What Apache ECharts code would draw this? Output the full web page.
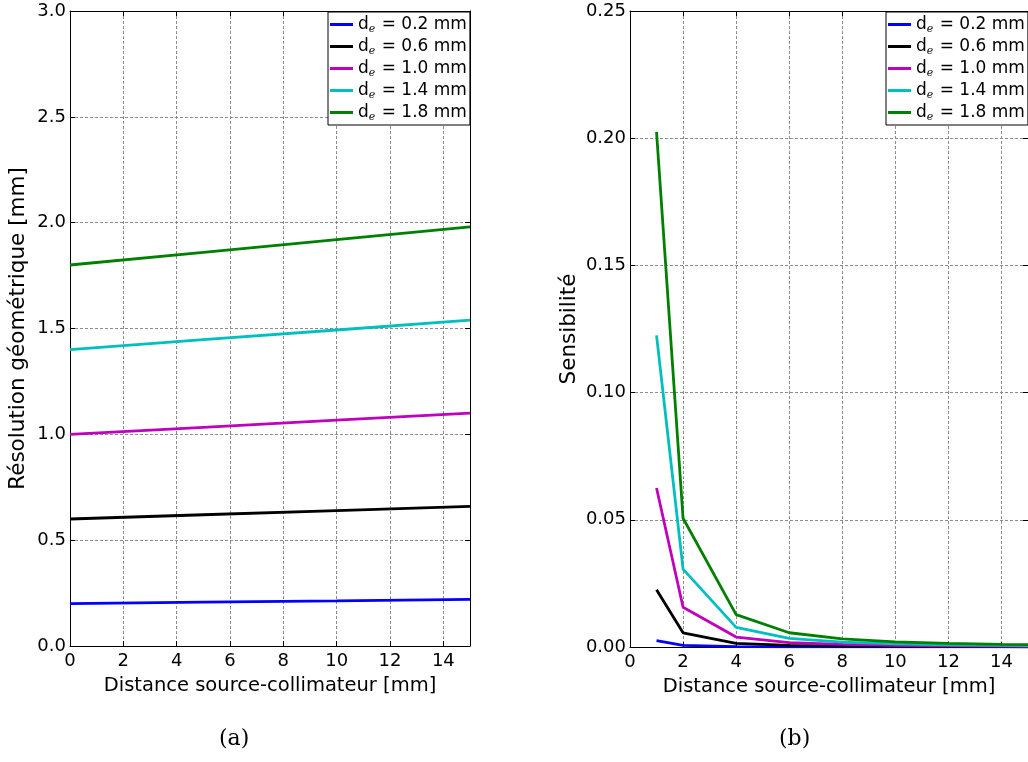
<!DOCTYPE html>
<html>
<head>
<meta charset="utf-8">
<script src="https://cdn.jsdelivr.net/npm/echarts@6/dist/echarts.min.js"></script>
<style>
html,body{margin:0;padding:0;background:#fff;}
#c{width:1028px;height:762px;}
</style>
</head>
<body>
<div id="c"></div>
<script>
// ---- data ----
const seriesNames = ['0.2 mm', '0.6 mm', '1.0 mm', '1.4 mm', '1.8 mm'];
const seriesColors = ['#0000ff', '#000000', '#bf00bf', '#00bfbf', '#008000'];

// (a) geometric resolution vs distance
const xA = [0, 5, 10, 15];
const resA_02 = [0.200, 0.207, 0.213, 0.220];
const resA_06 = [0.600, 0.620, 0.640, 0.660];
const resA_10 = [1.000, 1.033, 1.067, 1.100];
const resA_14 = [1.400, 1.447, 1.493, 1.540];
const resA_18 = [1.800, 1.860, 1.920, 1.980];

// (b) sensitivity vs distance
const xB = [1, 2, 4, 6, 8, 10, 12, 14, 15];
const sensB_02 = [0.0025, 0.0006, 0.00016, 0.00007, 0.00004, 0.000025, 0.000017, 0.000013, 0.000011];
const sensB_06 = [0.0225, 0.0056, 0.0014, 0.0006, 0.00035, 0.00023, 0.00016, 0.00011, 0.0001];
const sensB_10 = [0.0625, 0.0156, 0.0039, 0.0017, 0.0010, 0.0006, 0.00043, 0.00032, 0.00028];
const sensB_14 = [0.1225, 0.0306, 0.0077, 0.0034, 0.0019, 0.0012, 0.00085, 0.0006, 0.00054];
const sensB_18 = [0.2025, 0.0506, 0.0127, 0.0056, 0.0032, 0.0020, 0.0014, 0.0010, 0.0009];

const yTicksA = ['0.0','0.5','1.0','1.5','2.0','2.5','3.0'];
const yTicksB = ['0.00','0.05','0.10','0.15','0.20','0.25'];
const xLabel = 'Distance source-collimateur [mm]';
const yLabelA = 'Résolution géométrique [mm]';
const yLabelB = 'Sensibilité';

// ---- build ----
const FONT = 'DejaVu Sans';
const resA = [resA_02, resA_06, resA_10, resA_14, resA_18];
const sensB = [sensB_02, sensB_06, sensB_10, sensB_14, sensB_18];

function pairs(xs, ys){ return xs.map((x,i)=>[x, ys[i]]); }

const gridLine = {show:true, lineStyle:{color:'#8c8c8c', type:[3,2], width:1}};
const tick = {show:true, inside:true, length:5, lineStyle:{color:'#000', width:1}};
const axLine = {show:true, onZero:false, lineStyle:{color:'#000', width:1}};
const lblStyle = {color:'#000', fontSize:18, fontFamily:FONT};

function mainX(gi){
  return {type:'value', gridIndex:gi, min:0, max:15, interval:2, position:'bottom',
    axisLine:axLine, axisTick:tick, splitLine:gridLine,
    axisLabel:Object.assign({margin:6, showMaxLabel:false}, lblStyle),
    name:xLabel, nameLocation:'middle', nameGap:30,
    nameTextStyle:{color:'#000', fontSize:19.5, fontFamily:FONT}};
}
function topX(gi){
  return {type:'value', gridIndex:gi, min:0, max:15, interval:2, position:'top',
    axisLine:axLine, axisTick:tick, splitLine:{show:false}, axisLabel:{show:false}};
}
function mainY(gi, max, interval, labels, name, gap){
  return {type:'value', gridIndex:gi, min:0, max:max, interval:interval, position:'left',
    axisLine:axLine, axisTick:tick, splitLine:gridLine,
    axisLabel:Object.assign({margin:4, formatter:function(v){
      const i = Math.round(v/interval); return labels[i] !== undefined ? labels[i] : '';
    }}, lblStyle),
    name:name, nameLocation:'middle', nameGap:gap, nameRotate:90,
    nameTextStyle:{color:'#000', fontSize:21.5, fontFamily:FONT}};
}
function rightY(gi, max, interval){
  return {type:'value', gridIndex:gi, min:0, max:max, interval:interval, position:'right',
    axisLine:axLine, axisTick:tick, splitLine:{show:false}, axisLabel:{show:false}};
}

const series = [];
seriesNames.forEach((n,i)=>{
  series.push({type:'line', name:n, xAxisIndex:0, yAxisIndex:0, data:pairs(xA, resA[i]),
    showSymbol:false, symbol:'none', color:seriesColors[i], lineStyle:{width:2.8, color:seriesColors[i]}, z:2+i, animation:false});
});
seriesNames.forEach((n,i)=>{
  series.push({type:'line', name:n, xAxisIndex:2, yAxisIndex:2, data:pairs(xB, sensB[i]),
    showSymbol:false, symbol:'none', color:seriesColors[i], lineStyle:{width:2.8, color:seriesColors[i]}, z:2+i, animation:false});
});

function legend(left){
  return {show:true, orient:'vertical', left:left, top:12, itemGap:1,
    itemWidth:23, itemHeight:3, icon:'rect', selectedMode:false,
    backgroundColor:'#fff', borderColor:'#000', borderWidth:1, borderRadius:0,
    padding:[2,3,2,2],
    data:seriesNames.map((n,i)=>({name:n, itemStyle:{color:seriesColors[i]}})),
    formatter:function(n){ return '{d|d}{e|e}{t| = ' + n + '}'; },
    textStyle:{color:'#000', fontSize:17, fontFamily:FONT, lineHeight:21,
      rich:{
        d:{fontSize:17, fontFamily:FONT, color:'#000', lineHeight:21},
        e:{fontSize:11, fontFamily:'DejaVu Serif', fontStyle:'italic', color:'#000', padding:[10,1,0,0], lineHeight:21},
        t:{fontSize:17, fontFamily:FONT, color:'#000', lineHeight:21}
      }}
  };
}

const option = {
  animation:false,
  backgroundColor:'#fff',
  grid:[
    {left:70, top:11, width:400, height:635, containLabel:false},
    {left:630, top:11, width:399, height:636, containLabel:false}
  ],
  xAxis:[mainX(0), topX(0), mainX(1), topX(1)],
  yAxis:[mainY(0, 3, 0.5, yTicksA, yLabelA, 41), rightY(0, 3, 0.5),
         mainY(1, 0.25, 0.05, yTicksB, yLabelB, 50), rightY(1, 0.25, 0.05)],
  legend:[legend(328), legend(886)],
  series:series,
  graphic:[
    {type:'text', left:219, top:728, style:{text:'(a)', font:'22px "DejaVu Serif"', fill:'#000'}},
    {type:'text', left:779, top:728, style:{text:'(b)', font:'22px "DejaVu Serif"', fill:'#000'}}
  ]
};

const chart = echarts.init(document.getElementById('c'), null, {renderer:'canvas'});
chart.setOption(option);
</script>
</body>
</html>
